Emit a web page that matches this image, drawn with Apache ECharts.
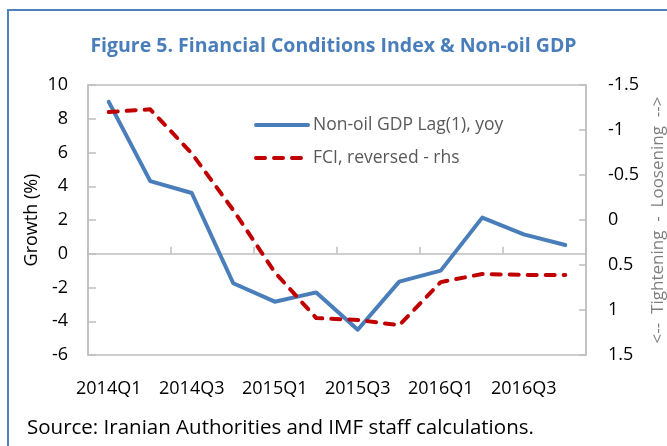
<!DOCTYPE html>
<html>
<head>
<meta charset="utf-8">
<script src="https://cdn.jsdelivr.net/npm/echarts@6/dist/echarts.min.js"></script>
<style>html,body{margin:0;padding:0;background:#fff}#c{width:667px;height:446px}</style>
</head>
<body>
<div id="c"></div>
<script>
const categories = ['2014Q1','2014Q2','2014Q3','2014Q4','2015Q1','2015Q2','2015Q3','2015Q4','2016Q1','2016Q2','2016Q3','2016Q4'];
const gdpGrowth = [9.0, 4.3, 3.6, -1.75, -2.84, -2.29, -4.5, -1.65, -1.0, 2.14, 1.15, 0.52];
const fciReversed = [-1.2, -1.23, -0.74, -0.11, 0.58, 1.09, 1.11, 1.17, 0.69, 0.6, 0.61, 0.61];
const leftTicks = {min: -6, max: 10, interval: 2};
const rightTicks = {min: -1.5, max: 1.5, interval: 0.5};
const seriesNames = ['Non-oil GDP Lag(1), yoy', 'FCI, reversed - rhs'];
const titleText = 'Figure 5. Financial Conditions Index & Non-oil GDP';
const sourceText = 'Source: Iranian Authorities and IMF staff calculations.';

const FONT = 'Open Sans';
const chart = echarts.init(document.getElementById('c'), null, {renderer: 'canvas'});
chart.setOption({
  animation: false,
  backgroundColor: '#fff',
  textStyle: {fontFamily: FONT},
  title: {
    text: titleText, left: 'center', top: 31,
    textStyle: {color: '#4A7EBB', fontWeight: 'bold', fontSize: 19.5, fontFamily: FONT}
  },
  legend: {
    left: 249, top: 111, orient: 'vertical', itemWidth: 52, itemHeight: 16, itemGap: 15,
    itemStyle: {opacity: 0},
    lineStyle: {width: 4},
    textStyle: {color: '#595959', fontSize: 17.5, fontFamily: FONT},
    data: seriesNames
  },
  grid: {left: 88, top: 85, right: 81, bottom: 91, show: true, borderColor: '#BFBFBF', borderWidth: 1.5,
         containLabel: false, outerBoundsMode: 'none'},
  xAxis: [{
    type: 'category', data: categories, boundaryGap: true,
    axisLine: {onZero: true, lineStyle: {color: '#BFBFBF', width: 1.5}},
    axisTick: {show: true, inside: true, interval: 1, length: 7, lineStyle: {color: '#BFBFBF', width: 1.5}},
    axisLabel: {show: false}
  }, {
    type: 'category', data: categories, boundaryGap: true, position: 'bottom',
    axisLine: {show: false, onZero: false}, axisTick: {show: false},
    axisLabel: {interval: 1, color: '#000', fontSize: 18, margin: 25, fontFamily: FONT}
  }],
  yAxis: [{
    type: 'value', min: leftTicks.min, max: leftTicks.max, interval: leftTicks.interval, position: 'left',
    axisLine: {show: true, lineStyle: {color: '#BFBFBF', width: 1.5}},
    axisTick: {show: true, inside: true, length: 8, lineStyle: {color: '#BFBFBF', width: 1.5}},
    axisLabel: {color: '#000', fontSize: 18, margin: 20, fontFamily: FONT},
    splitLine: {show: false},
    name: 'Growth (%)', nameLocation: 'middle', nameGap: 47, nameRotate: 90, nameMoveOverlap: false,
    nameTextStyle: {color: '#000', fontSize: 18, fontFamily: FONT}
  }, {
    type: 'value', min: rightTicks.min, max: rightTicks.max, interval: rightTicks.interval, position: 'right', inverse: true,
    axisLine: {show: true, lineStyle: {color: '#BFBFBF', width: 1.5}},
    axisTick: {show: true, inside: true, length: 7, lineStyle: {color: '#BFBFBF', width: 1.5}},
    axisLabel: {color: '#000', fontSize: 18, margin: 22, fontFamily: FONT},
    splitLine: {show: false},
    name: '<--  Tightening  -  Loosening  -->', nameLocation: 'middle', nameGap: 62, nameRotate: 90,
    nameTextStyle: {color: '#7F7F7F', fontSize: 17, fontFamily: FONT}
  }],
  series: [{
    name: seriesNames[0], type: 'line', xAxisIndex: 0, yAxisIndex: 0, data: gdpGrowth,
    symbol: 'none', lineStyle: {color: '#4A7EBB', width: 4, cap: 'round', join: 'round'},
    itemStyle: {color: '#4A7EBB'}
  }, {
    name: seriesNames[1], type: 'line', xAxisIndex: 0, yAxisIndex: 1, data: fciReversed,
    symbol: 'none', lineStyle: {color: '#C00000', width: 4, type: [9, 9], cap: 'round', join: 'round'},
    itemStyle: {color: '#C00000'}
  }],
  graphic: [{
    type: 'rect', shape: {x: 8, y: 10, width: 720, height: 500},
    style: {fill: 'none', stroke: '#4F81BD', lineWidth: 2}, silent: true
  }, {
    type: 'text', left: 27, top: 418,
    style: {text: sourceText, fill: '#000', fontSize: 20.5, fontFamily: FONT}
  }]
});
</script>
</body>
</html>
